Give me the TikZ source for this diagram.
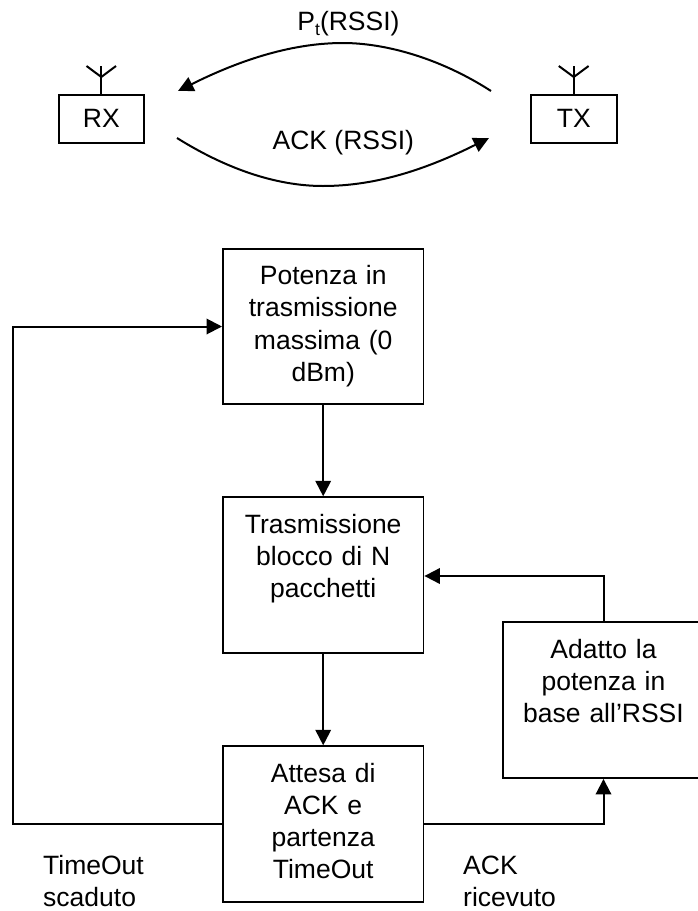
\documentclass[tikz,border=0pt]{standalone}
\usepackage{fontspec}
\setmainfont{Liberation Sans}
\usetikzlibrary{arrows.meta}
\tikzset{
  flowbox/.style={draw=black,line width=1.9pt,inner sep=0pt,minimum width=200.5pt,minimum height=155.5pt,text width=200pt,align=center,font=\fontsize{26.5}{32.2}\selectfont},
  radiobox/.style={draw=black,line width=1.9pt,inner sep=0pt,minimum width=85.5pt,minimum height=48pt,font=\fontsize{26.5}{32.2}\selectfont},
  caption/.style={inner sep=0pt,align=left,anchor=north west,font=\fontsize{26.5}{32.2}\selectfont},
  curvelabel/.style={inner sep=0pt,anchor=base,font=\fontsize{26.5}{32.2}\selectfont},
  link/.style={line width=2pt,-{Triangle[length=15.5pt,width=15.5pt]}},
  plain/.style={line width=2pt},
  wave/.style={line width=2pt}
}
\begin{document}
\begin{tikzpicture}[x=1pt,y=-1pt]
\useasboundingbox (0,0) rectangle (698,911);
% radio boxes
\node[radiobox] (rx) at (101.3,118.7) {RX};
\node[radiobox] (tx) at (573.8,118.7) {TX};
\coordinate (rxt) at (101.3,66);
\coordinate (txt) at (573.8,66);
\draw[plain] (rx.north) -- (rxt);
\draw[plain] (tx.north) -- (txt);
\draw[plain] (86.5,66) -- (101.3,77) -- (116,66);
\draw[plain] (558.8,66) -- (573.8,77) -- (588.6,66);
% curves
\coordinate (c1) at (491,91);
\coordinate (c2) at (343,43);
\coordinate (c3) at (178,91);
\coordinate (c4) at (177,138);
\coordinate (c5) at (323,186);
\coordinate (c6) at (489,138);
\draw[wave,-{Triangle[length=15.5pt,width=15pt]}] (c1) .. controls (440,58) and (385,43) .. (c2) .. controls (300,43) and (250,55) .. (c3);
\draw[wave,-{Triangle[length=15.5pt,width=15pt]}] (c4) .. controls (225,168) and (275,186) .. (c5) .. controls (375,186) and (425,170) .. (c6);
\node[curvelabel] (lp) at (348.5,30.7) {P\raisebox{-5pt}{\fontsize{17.5}{17.5}\selectfont t}(RSSI)};
\node[curvelabel] (la) at (343.3,149) {ACK (RSSI)};
% flow boxes
\node[flowbox] (pot) at (323.2,326.5) {\strut Potenza in\\\strut trasmissione\\\strut massima (0\\\strut dBm)};
\node[flowbox] (tra) at (323.2,575) {\strut Trasmissione\\\strut blocco di N\\\strut pacchetti\\\strut};
\node[flowbox] (att) at (323.2,824) {\strut Attesa di\\\strut ACK e\\\strut partenza\\\strut TimeOut};
\node[flowbox,minimum height=156pt] (ada) at (603.5,700) {\strut Adatto la\\\strut potenza in\\\strut base all’RSSI\\\strut};
% connectors
\coordinate (lft) at (13,575);
\coordinate (up) at (603.5,576);
\draw[link] (pot.south) -- (tra.north);
\draw[link] (tra.south) -- (att.north);
\draw[link] (att.west) -| (lft) |- (pot.west);
\draw[link] (att.east) -| (ada.south);
\draw[link] (ada.north) |- (tra.east |- up);
% captions
\node[caption] (c-to) at (43,851.5) {\strut TimeOut\\scaduto};
\node[caption] (c-ack) at (463,851.5) {\strut ACK\\ricevuto};
\end{tikzpicture}
\end{document}
